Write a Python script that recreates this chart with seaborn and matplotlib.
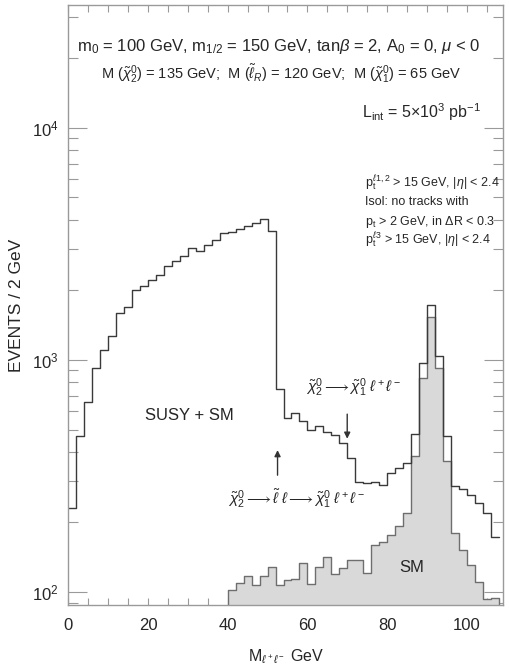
import matplotlib
matplotlib.use("Agg")
import matplotlib.pyplot as plt
import matplotlib.ticker as mticker
import numpy as np
import pandas as pd
import seaborn as sns

sns.set_theme(style="ticks")
plt.rcParams['font.family'] = ['Liberation Sans', 'DejaVu Sans']
plt.rcParams['mathtext.fontset'] = 'custom'
plt.rcParams['mathtext.rm'] = 'Liberation Sans'
plt.rcParams['mathtext.it'] = 'Liberation Sans:italic'
plt.rcParams['mathtext.bf'] = 'Liberation Sans:bold'

# ─── DATA ───────────────────────────────────────────────────────────────────
BIN_WIDTH = 2  # GeV
# lower bin edges of the dilepton mass histograms (GeV)
susy_mass = list(range(0, 108, 2))
susy_events = [231, 468, 661, 921, 1104, 1268, 1589, 1680, 2000, 2083,
               2208, 2322, 2540, 2676, 2805, 3043, 2955, 3130, 3287, 3512,
               3568, 3653, 3775, 3876, 4034, 3592, 748, 560, 590, 545,
               500, 517, 491, 475, 438, 378, 299, 296, 298, 290,
               326, 343, 360, 480, 968, 1726, 1040, 468, 287, 277,
               262, 242, 219, 173]
sm_mass = list(range(40, 108, 2))
sm_events = [102, 109, 117, 107, 117, 128, 107, 113, 114, 133,
             108, 128, 141, 120, 127, 137, 137, 121, 160, 165,
             177, 192, 219, 384, 834, 1535, 921, 365, 180, 152,
             131, 111, 93, 94]
x_ticks = [0, 20, 40, 60, 80, 100]

susy = pd.DataFrame({"m": np.array(susy_mass) + BIN_WIDTH / 2, "n": susy_events})
sm = pd.DataFrame({"m": np.array(sm_mass) + BIN_WIDTH / 2, "n": sm_events})
susy_bins = list(range(susy_mass[0], susy_mass[-1] + BIN_WIDTH + 1, BIN_WIDTH))
sm_bins = list(range(sm_mass[0], sm_mass[-1] + BIN_WIDTH + 1, BIN_WIDTH))

# ─── FIGURE ─────────────────────────────────────────────────────────────────
fig = plt.figure(figsize=(5.1, 6.71), dpi=100)
ax = fig.add_axes([68.5 / 510, 1 - 605 / 671, 434.8 / 510, 600 / 671])
ax.set_yscale('log')

sns.histplot(data=sm, x="m", weights="n", bins=sm_bins,
             element="step", fill=True, facecolor="#d9d9d9", edgecolor="#6e6e6e",
             linewidth=1.0, alpha=1, ax=ax)
sns.histplot(data=susy, x="m", weights="n", bins=susy_bins,
             element="step", fill=False, color="#3a3a3a", linewidth=1.0, ax=ax)

ax.set_xlim(0, 109.2)
ax.set_ylim(88, 33700)

# axes / ticks
for s in ax.spines.values():
    s.set_color("#9a9a9a")
    s.set_linewidth(1.0)
ax.set_xticks(x_ticks)
ax.xaxis.set_minor_locator(mticker.MultipleLocator(5))
ax.tick_params(axis='x', which='both', direction='in', top=True, length=5,
               width=0.8, color="#9a9a9a", labelsize=12, pad=9)
ax.tick_params(axis='y', which='major', direction='in', right=True, length=14,
               width=0.8, color="#9a9a9a", labelsize=12, pad=7)
ax.tick_params(axis='y', which='minor', direction='in', right=True, length=7,
               width=0.8, color="#9a9a9a")
ax.yaxis.set_major_locator(mticker.LogLocator(base=10))
ax.yaxis.set_minor_locator(mticker.LogLocator(base=10, subs=np.arange(2, 10)))
ax.yaxis.set_minor_formatter(mticker.NullFormatter())
ax.grid(False)

ax.set_xlabel(r"M$_{\ell^+\ell^-}$ GeV", fontsize=11.5, labelpad=11)
ax.set_ylabel("EVENTS / 2 GeV", fontsize=12.5, labelpad=6)

# ─── TEXT ───────────────────────────────────────────────────────────────────
tr = ax.transAxes
ax.text(0.484, 0.930, r"m$_0$ = 100 GeV, m$_{1/2}$ = 150 GeV, tan$\beta$ = 2, A$_0$ = 0, $\mu$ < 0",
        transform=tr, ha='center', va='center', fontsize=12)
ax.text(0.489, 0.885,
        r"M ($\tilde{\chi}^0_2$) = 135 GeV;  M ($\tilde{\ell}_R$) = 120 GeV;  M ($\tilde{\chi}^0_1$) = 65 GeV",
        transform=tr, ha='center', va='center', fontsize=10.5)
ax.text(0.675, 0.822, r"L$_{\rm int}$ = 5$\times$10$^3$ pb$^{-1}$",
        transform=tr, ha='left', va='center', fontsize=11.5)
cuts = [r"p$_{\rm t}^{\ell}$$^{1,2}$ > 15 GeV, |$\eta$| < 2.4",
        "Isol: no tracks with",
        r"p$_{\rm t}$ > 2 GeV, in $\Delta$R < 0.3",
        r"p$_{\rm t}^{\ell}$$^{3}$ > 15 GeV, |$\eta$| < 2.4"]
for yy, c in zip([0.703, 0.672, 0.638, 0.608], cuts):
    ax.text(0.682, yy, c, transform=tr, ha='left', va='center', fontsize=9)

ax.text(0.277, 0.315, "SUSY + SM", transform=tr, ha='center', va='center', fontsize=12)
ax.text(0.79, 0.062, "SM", transform=tr, ha='center', va='center', fontsize=12)
ax.text(0.546, 0.362, r"$\tilde{\chi}^0_2 \longrightarrow \tilde{\chi}^0_1\;\ell^+\ell^-$",
        transform=tr, ha='left', va='center', fontsize=11)
ax.text(0.367, 0.178,
        r"$\tilde{\chi}^0_2 \longrightarrow \tilde{\ell}\;\ell \longrightarrow \tilde{\chi}^0_1\;\ell^+\ell^-$",
        transform=tr, ha='left', va='center', fontsize=11)

# arrows marking the two decay chains
ax.annotate("", xy=(70, 445), xytext=(70, 600),
            arrowprops=dict(arrowstyle="-|>", color="#333333", lw=1.0, mutation_scale=9))
ax.annotate("", xy=(52.5, 420), xytext=(52.5, 310),
            arrowprops=dict(arrowstyle="-|>", color="#333333", lw=1.0, mutation_scale=9))

plt.savefig("out.png", dpi=100)
plt.close()
